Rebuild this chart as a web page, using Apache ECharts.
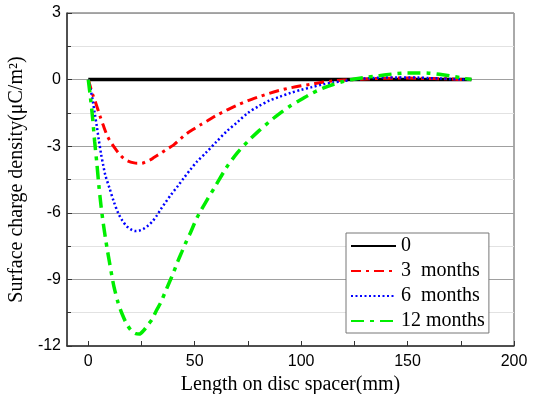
<!DOCTYPE html>
<html>
<head>
<meta charset="utf-8">
<script src="https://cdn.jsdelivr.net/npm/echarts@6/dist/echarts.min.js"></script>
<style>html,body{margin:0;padding:0;background:#fff;}#c{width:536px;height:394px;}</style>
</head>
<body>
<div id="c"></div>
<script>
// ---- data ----
const seriesNames = ['0', '3  months', '6  months', '12 months'];

const x0 = [0, 180];
const y0 = [0, 0];

const x3 = [0, 1, 2, 3.5, 5, 7, 9, 11, 13, 15, 17, 19, 21, 23, 25, 27, 29, 31, 34, 37, 40, 43, 46, 50, 53, 56, 60, 65, 70, 75, 80, 85, 90, 95, 100, 105, 110, 115, 120, 125, 130, 135, 140, 145, 150, 155, 160, 165, 170, 175, 180];
const y3 = [0, -0.33, -0.65, -1.05, -1.5, -2.05, -2.55, -2.88, -3.15, -3.4, -3.58, -3.68, -3.74, -3.77, -3.77, -3.7, -3.62, -3.5, -3.32, -3.13, -2.95, -2.7, -2.45, -2.2, -2.02, -1.85, -1.62, -1.38, -1.15, -0.95, -0.78, -0.62, -0.48, -0.37, -0.28, -0.2, -0.12, -0.06, -0.02, 0, 0.03, 0.05, 0.06, 0.07, 0.07, 0.06, 0.05, 0.04, 0.03, 0.01, 0];

const x6 = [0, 1, 2, 3, 4, 5, 6, 7, 8, 10, 12, 14, 16, 18, 20, 22, 24, 26, 28, 30, 32, 34, 36.5, 39, 42, 45, 48, 51, 55, 60, 65, 70, 75, 80, 85, 90, 95, 100, 105, 110, 115, 120, 125, 130, 135, 140, 145, 150, 155, 160, 165, 170, 175, 180];
const y6 = [0, -0.4, -0.9, -1.5, -2.1, -2.75, -3.35, -3.85, -4.3, -4.9, -5.5, -6.0, -6.35, -6.6, -6.75, -6.82, -6.8, -6.72, -6.58, -6.4, -6.15, -5.85, -5.5, -5.17, -4.8, -4.42, -4.05, -3.7, -3.32, -2.82, -2.33, -1.92, -1.5, -1.2, -0.95, -0.77, -0.6, -0.46, -0.34, -0.22, -0.13, -0.06, 0, 0.05, 0.08, 0.1, 0.1, 0.1, 0.09, 0.07, 0.05, 0.03, 0.01, 0];

const x12 = [0, 1, 2, 3, 4, 5, 6, 7, 8, 9, 10, 11, 12, 14, 16, 18, 20, 22, 24, 26, 28, 30, 32, 34, 36, 38, 40, 42, 44, 46, 48, 50, 52, 55, 60, 65, 70, 75, 80, 85, 90, 95, 100, 105, 110, 115, 120, 125, 130, 135, 140, 145, 150, 155, 160, 165, 170, 175, 180];
const y12 = [0, -0.8, -1.7, -2.8, -3.75, -4.8, -5.7, -6.45, -7.1, -7.7, -8.25, -8.8, -9.3, -10.05, -10.58, -11.0, -11.28, -11.43, -11.46, -11.3, -11.05, -10.8, -10.4, -10.05, -9.6, -9.15, -8.7, -8.2, -7.75, -7.3, -6.9, -6.45, -6.05, -5.55, -4.75, -3.95, -3.3, -2.78, -2.32, -1.9, -1.52, -1.18, -0.9, -0.62, -0.4, -0.22, -0.08, 0.03, 0.1, 0.15, 0.22, 0.27, 0.3, 0.3, 0.29, 0.24, 0.17, 0.08, 0];

const xTickLabels = [0, 50, 100, 150, 200];
const xTicks = [0, 25, 50, 75, 100, 125, 150, 175, 200];

function zip(xs, ys) { return xs.map((x, i) => [x, ys[i]]); }

const serif = '"Liberation Serif", "Times New Roman", serif';
const sans = '"Liberation Sans", Arial, sans-serif';

const chart = echarts.init(document.getElementById('c'), null, { renderer: 'canvas' });
chart.setOption({
  animation: false,
  backgroundColor: '#fff',
  grid: { left: 67, right: 22, top: 13, bottom: 48, outerBoundsMode: 'none', containLabel: false,
    show: true, borderColor: '#555', borderWidth: 1, backgroundColor: 'transparent' },
  legend: {
    orient: 'vertical',
    left: 346, top: 233,
    data: seriesNames,
    backgroundColor: '#fff',
    borderColor: '#777', borderWidth: 1,
    padding: [3, 4, 2, 4],
    itemWidth: 45, itemHeight: 14, itemGap: 5,
    itemStyle: { opacity: 0 },
    textStyle: { fontFamily: serif, fontSize: 20, color: '#000' }
  },
  xAxis: {
    type: 'value', min: -10, max: 200,
    name: 'Length on disc spacer(mm)', nameLocation: 'middle', nameGap: 25,
    nameTextStyle: { fontFamily: serif, fontSize: 20, color: '#000' },
    axisLine: { show: true, onZero: false, lineStyle: { color: '#333', width: 1.5 } },
    axisTick: { show: true, inside: true, length: 5, customValues: xTicks, lineStyle: { color: '#333' } },
    axisLabel: { customValues: xTickLabels, fontFamily: sans, fontSize: 16, color: '#000', margin: 8 },
    splitLine: { show: false }
  },
  yAxis: {
    type: 'value', min: -12, max: 3, interval: 3,
    name: 'Surface charge density(\u03bcC/m\u00b2)', nameLocation: 'middle', nameGap: 26,
    nameTextStyle: { fontFamily: serif, fontSize: 20, color: '#000' },
    axisLine: { show: true, onZero: false, lineStyle: { color: '#333', width: 1.5 } },
    axisTick: { show: true, inside: true, length: 5, lineStyle: { color: '#333' } },
    minorTick: { show: true, splitNumber: 2, length: 4, lineStyle: { color: '#333' } },
    axisLabel: { fontFamily: sans, fontSize: 16, color: '#000', margin: 6 },
    splitLine: { show: true, lineStyle: { color: '#a0a0a0', width: 1 } },
    minorSplitLine: { show: true, lineStyle: { color: '#e2e2e2', width: 1 } }
  },
  series: [
    { name: seriesNames[0], type: 'line', data: zip(x0, y0), showSymbol: false, symbol: 'none',
      lineStyle: { color: '#000', width: 3.5, type: 'solid' }, itemStyle: { color: '#000' } },
    { name: seriesNames[1], type: 'line', data: zip(x3, y3), showSymbol: false, symbol: 'none', smooth: 0.3,
      lineStyle: { color: '#ff0000', width: 3, type: [10, 5, 3, 5] }, itemStyle: { color: '#ff0000' } },
    { name: seriesNames[2], type: 'line', data: zip(x6, y6), showSymbol: false, symbol: 'none', smooth: 0.3,
      lineStyle: { color: '#0000ff', width: 2.5, type: [2, 2.5] }, itemStyle: { color: '#0000ff' } },
    { name: seriesNames[3], type: 'line', data: zip(x12, y12), showSymbol: false, symbol: 'none', smooth: 0.3,
      lineStyle: { color: '#00ee00', width: 3.5, type: [13, 6, 4, 6] }, itemStyle: { color: '#00ee00' } }
  ]
});
</script>
</body>
</html>
